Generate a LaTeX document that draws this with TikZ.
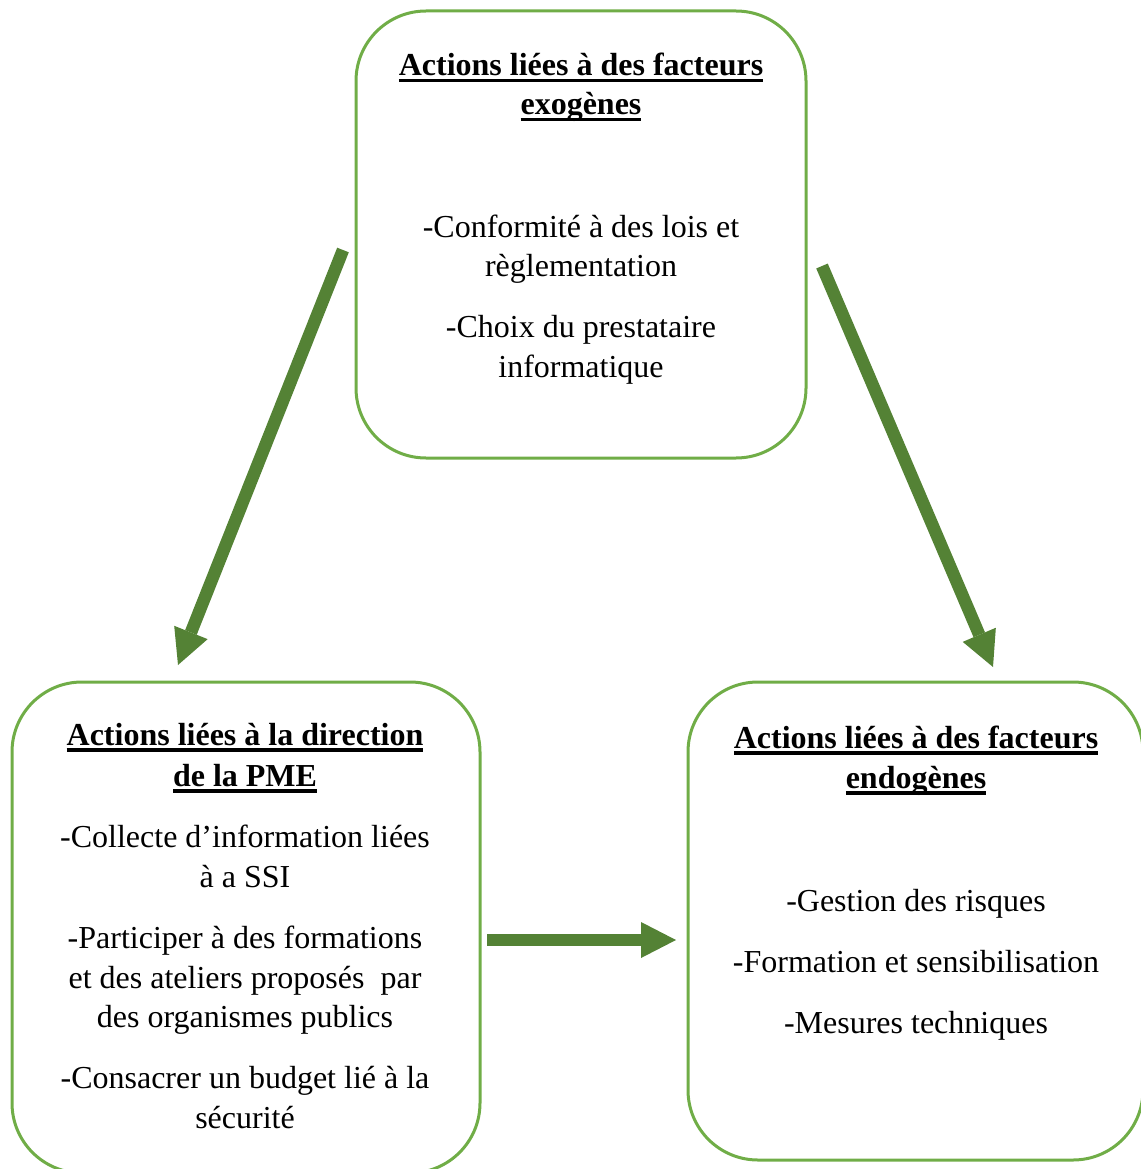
\documentclass[tikz,border=0pt]{standalone}
\usepackage{fontspec}
\setmainfont{Liberation Serif}
\usetikzlibrary{arrows.meta}
\definecolor{boxgreen}{HTML}{70AD47}
\definecolor{arrowgreen}{HTML}{548235}
\newcommand{\ulbold}[1]{\setbox0=\hbox{\bfseries #1}\leavevmode\rlap{\rule[-6.5pt]{\wd0}{3.4pt}}\box0}
\begin{document}
\begin{tikzpicture}[x=1pt,y=-1pt,
  box/.style={draw=boxgreen, line width=3pt, rounded corners=70pt, inner sep=0pt, outer sep=0pt},
  txt/.style={anchor=base, inner sep=0pt, yshift=-2pt, font=\fontsize{32}{39.5}\selectfont},
  bigarrow/.style={draw=arrowgreen, line width=12.5pt, -{Triangle[length=35pt,width=36pt,line width=0pt]}}]
\useasboundingbox (0,0) rectangle (1140,1169);
% boxes
\node[box, minimum width=450pt, minimum height=447pt] (top) at (581,234.5) {};
\node[box, minimum width=468pt, minimum height=491pt] (left) at (246,927.5) {};
\node[box, minimum width=455pt, minimum height=478pt] (right) at (915.5,921) {};
% top box text
\node[txt] (t1) at (581,74) {\ulbold{Actions liées à des facteurs}};
\node[txt] (t2) at (581,113) {\ulbold{exogènes}};
\node[txt] (t3) at (581,235) {-Conformité à des lois et};
\node[txt] (t4) at (581,274) {règlementation};
\node[txt] (t5) at (581,335) {-Choix du prestataire};
\node[txt] (t6) at (581,375) {informatique};
% left box text
\node[txt] (l1) at (245,743) {\ulbold{Actions liées à la direction}};
\node[txt] (l2) at (245,784) {\ulbold{de la PME}};
\node[txt] (l3) at (245,845) {-Collecte d’information liées};
\node[txt] (l4) at (245,885) {à a SSI};
\node[txt] (l5) at (245,946) {-Participer à des formations};
\node[txt] (l6) at (245,986) {et des ateliers proposés~\ par};
\node[txt] (l7) at (245,1025) {des organismes publics};
\node[txt] (l8) at (245,1086) {-Consacrer un budget lié à la};
\node[txt] (l9) at (245,1126) {sécurité};
% right box text
\node[txt] (r1) at (916,746) {\ulbold{Actions liées à des facteurs}};
\node[txt] (r2) at (916,786) {\ulbold{endogènes}};
\node[txt] (r3) at (916,909) {-Gestion des risques};
\node[txt] (r4) at (916,970) {-Formation et sensibilisation};
\node[txt] (r5) at (916,1031) {-Mesures techniques};
% arrows
\coordinate (a1s) at (343,250);
\coordinate (a1e) at (178,665);
\coordinate (a2s) at (822,266);
\coordinate (a2e) at (993,667);
\coordinate (a3s) at (487,940);
\coordinate (a3e) at (676,940);
\draw[bigarrow] (a1s) -- (a1e);
\draw[bigarrow] (a2s) -- (a2e);
\draw[bigarrow] (a3s) -- (a3e);
\end{tikzpicture}
\end{document}
